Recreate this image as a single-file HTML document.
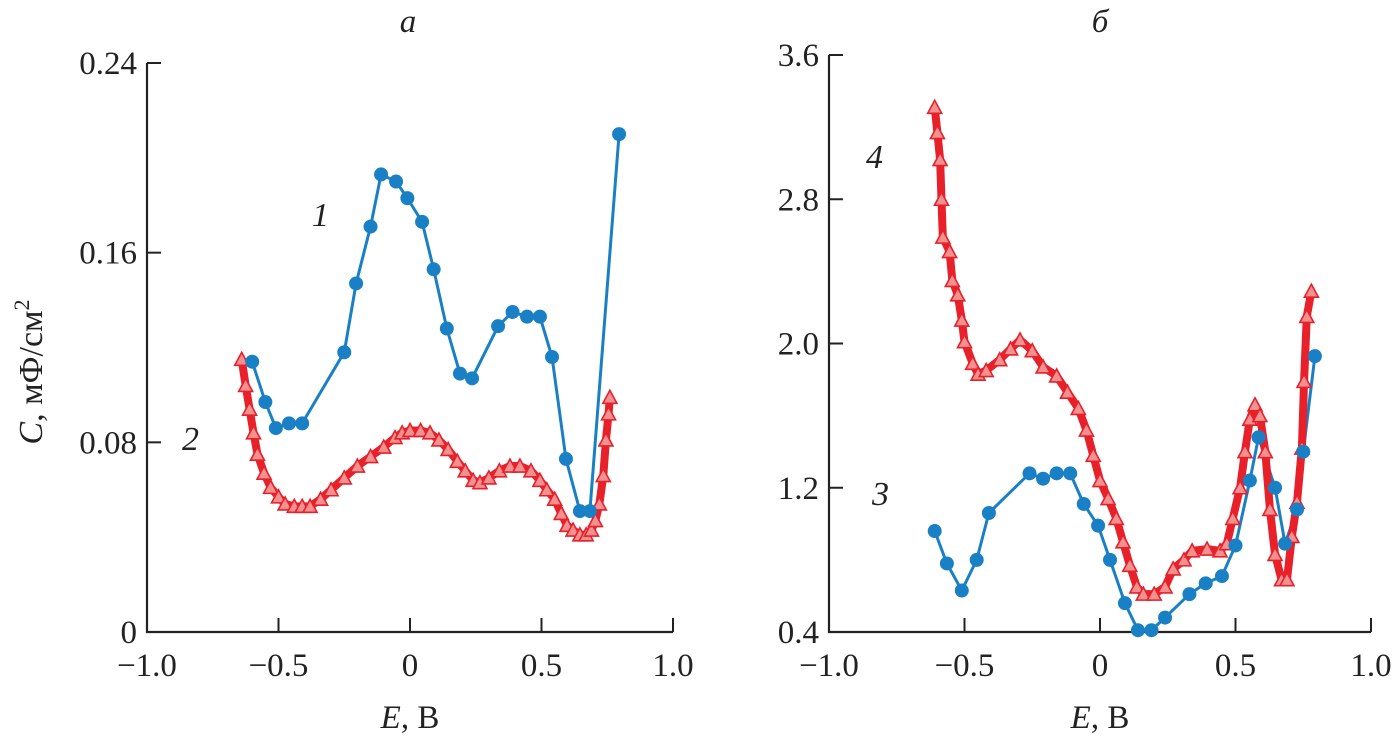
<!DOCTYPE html>
<html><head><meta charset="utf-8"><style>
body{margin:0;background:#fff;}
svg{display:block;}
text{font-family:'Liberation Serif','Times New Roman',Times,serif;}
</style></head><body>
<svg id="chart" width="1393" height="739" viewBox="0 0 1393 739" font-family="Liberation Serif, Times New Roman, serif"></svg>
<script>
// Panel a data
const aCat1E=[-0.60,-0.55,-0.51,-0.46,-0.41,-0.25,-0.205,-0.15,-0.11,-0.053,-0.01,0.046,0.09,0.14,0.19,0.236,0.335,0.39,0.445,0.494,0.54,0.593,0.646,0.684,0.795];
const aSeries1C=[0.114,0.097,0.086,0.088,0.088,0.118,0.147,0.171,0.193,0.190,0.183,0.173,0.153,0.128,0.109,0.107,0.129,0.135,0.133,0.133,0.116,0.073,0.051,0.051,0.210];
const aCat2E=[-0.64,-0.625,-0.61,-0.595,-0.58,-0.555,-0.53,-0.5,-0.475,-0.44,-0.41,-0.38,-0.34,-0.3,-0.25,-0.2,-0.15,-0.1,-0.057,-0.03,0,0.04,0.076,0.11,0.145,0.18,0.21,0.24,0.266,0.3,0.34,0.38,0.418,0.46,0.494,0.52,0.55,0.575,0.597,0.62,0.646,0.67,0.69,0.705,0.72,0.735,0.745,0.755,0.76];
const aSeries2C=[0.115,0.104,0.094,0.084,0.075,0.067,0.061,0.057,0.054,0.053,0.053,0.053,0.056,0.060,0.065,0.070,0.074,0.078,0.082,0.084,0.085,0.085,0.084,0.081,0.077,0.072,0.068,0.064,0.063,0.065,0.068,0.070,0.070,0.068,0.064,0.060,0.056,0.050,0.045,0.043,0.041,0.041,0.043,0.047,0.054,0.066,0.081,0.092,0.099];
// Panel b data
const bCat3E=[-0.61,-0.565,-0.51,-0.455,-0.41,-0.26,-0.21,-0.16,-0.11,-0.06,-0.007,0.037,0.092,0.14,0.19,0.24,0.33,0.39,0.45,0.50,0.553,0.585,0.646,0.683,0.727,0.75,0.793];
const bSeries3C=[0.96,0.78,0.63,0.80,1.06,1.28,1.25,1.28,1.28,1.11,0.99,0.80,0.56,0.41,0.41,0.48,0.61,0.67,0.71,0.88,1.24,1.48,1.20,0.89,1.08,1.40,1.93];
const bCat4E=[-0.61,-0.60,-0.59,-0.585,-0.58,-0.555,-0.545,-0.525,-0.51,-0.50,-0.47,-0.45,-0.42,-0.37,-0.33,-0.295,-0.25,-0.21,-0.16,-0.12,-0.08,-0.05,-0.025,0,0.03,0.06,0.085,0.11,0.136,0.16,0.20,0.24,0.27,0.31,0.34,0.395,0.443,0.468,0.49,0.517,0.535,0.553,0.572,0.59,0.61,0.627,0.646,0.67,0.69,0.708,0.727,0.745,0.753,0.763,0.78];
const bSeries4C=[3.31,3.17,3.02,2.80,2.59,2.51,2.35,2.27,2.13,2.01,1.89,1.83,1.85,1.91,1.97,2.02,1.96,1.87,1.82,1.73,1.64,1.52,1.38,1.24,1.14,1.03,0.90,0.77,0.65,0.61,0.61,0.65,0.75,0.80,0.85,0.86,0.85,0.89,1.03,1.20,1.40,1.58,1.66,1.60,1.40,1.08,0.83,0.69,0.69,0.93,1.12,1.42,1.79,2.15,2.29];
const xTicks=[-1.0,-0.5,0,0.5,1.0];
const xTickLabels=["\u22121.0","\u22120.5","0","0.5","1.0"];
const aYTicks=[0,0.08,0.16,0.24];
const aYTickLabels=["0","0.08","0.16","0.24"];
const bYTicks=[0.4,1.2,2.0,2.8,3.6];
const bYTickLabels=["0.4","1.2","2.0","2.8","3.6"];

const NS="http://www.w3.org/2000/svg";
const svg=document.getElementById('chart');
const FF="'Liberation Serif','Times New Roman',serif";
function mk(tag,attrs,parent){const e=document.createElementNS(NS,tag);for(const k in attrs)e.setAttribute(k,attrs[k]);if(tag==='text')e.setAttribute('font-family',FF);(parent||svg).appendChild(e);return e;}

function panel(opt){
  const g=mk('g',{});
  
  
  const sx=v=>opt.x0+(v-opt.xmin)/(opt.xmax-opt.xmin)*(opt.x1-opt.x0);
  const sy=v=>opt.y0-(v-opt.ymin)/(opt.ymax-opt.ymin)*(opt.y0-opt.y1);
  const ax=mk('path',{d:`M${opt.x0} ${opt.y1}V${opt.y0}H${opt.x1}`,fill:'none',stroke:'#222','stroke-width':2.2},g);
  
  
  xTicks.forEach((t,i)=>{
    const x=sx(t);
    if(i>0){const tk=mk('line',{x1:x,x2:x,y1:opt.y0,y2:opt.y0-14,stroke:'#222','stroke-width':2},g);
      
      }
    const tl=mk('text',{x:x,y:opt.y0+44,'font-size':33,'text-anchor':'middle',fill:'#222'},g);
    tl.textContent=xTickLabels[i];
    
    
  });
  opt.yTicks.forEach((t,i)=>{
    const y=sy(t);
    if(i>0){const tk=mk('line',{x1:opt.x0,x2:opt.x0+14,y1:y,y2:y,stroke:'#222','stroke-width':2},g);
      
      }
    const tl=mk('text',{x:opt.x0-10,y:y+11,'font-size':33,'text-anchor':'end',fill:'#222'},g);
    tl.textContent=opt.yLabels[i];
    
    
  });
  const xt=mk('text',{x:(opt.x0+opt.x1)/2,y:opt.y0+96,'font-size':33,'text-anchor':'middle',fill:'#222'},g);
  xt.innerHTML='<tspan font-style="italic">E</tspan>, В';
  
  
  const tt=mk('text',{x:opt.titleX,y:32,'font-size':33,'font-style':'italic','text-anchor':'middle',fill:'#222'},g);
  tt.textContent=opt.title;
  
  
  const bp=opt.blueE.map((e,i)=>sx(e)+','+sy(opt.blueC[i])).join(' ');
  const bl=mk('polyline',{points:bp,fill:'none',stroke:'#1a80c6','stroke-width':3},g);
  
  
  const rp=opt.redE.map((e,i)=>sx(e)+','+sy(opt.redC[i])).join(' ');
  const rl=mk('polyline',{points:rp,fill:'none',stroke:'#e8202a','stroke-width':8,'stroke-linejoin':'round'},g);
  
  
  opt.redE.forEach((e,i)=>{
    const x=sx(e),y=sy(opt.redC[i]);
    const tr=mk('polygon',{points:`${x},${y-7} ${x-7},${y+6} ${x+7},${y+6}`,fill:'#f39090',stroke:'#e8202a','stroke-width':1.6},g);
    
    
  });
  opt.blueE.forEach((e,i)=>{
    const c=mk('circle',{cx:sx(e),cy:sy(opt.blueC[i]),r:7,fill:'#1a80c6'},g);
    
    
  });
  opt.labels.forEach(l=>{
    const t=mk('text',{x:l[1],y:l[2],'font-size':34,'font-style':'italic',fill:'#222'},g);
    t.textContent=l[0];
    
    
  });
}
panel({name:'panel-a',x0:147,x1:673,y0:632,y1:63,xmin:-1,xmax:1,ymin:0,ymax:0.24,yTicks:aYTicks,yLabels:aYTickLabels,
  blueE:aCat1E,blueC:aSeries1C,redE:aCat2E,redC:aSeries2C,title:'а',titleX:408,labels:[['1',312,226],['2',182,450]]});
panel({name:'panel-b',x0:829,x1:1371,y0:632,y1:55,xmin:-1,xmax:1,ymin:0.4,ymax:3.6,yTicks:bYTicks,yLabels:bYTickLabels,
  blueE:bCat3E,blueC:bSeries3C,redE:bCat4E,redC:bSeries4C,title:'б',titleX:1100,labels:[['3',872,505],['4',866,168]]});
const yt=mk('text',{x:0,y:0,'font-size':34,'text-anchor':'middle',fill:'#222',transform:'translate(42,372) rotate(-90)'});
yt.innerHTML='<tspan font-style="italic">C</tspan>, мФ/см<tspan font-size="22" dy="-13">2</tspan>';


</script>
</body></html>
